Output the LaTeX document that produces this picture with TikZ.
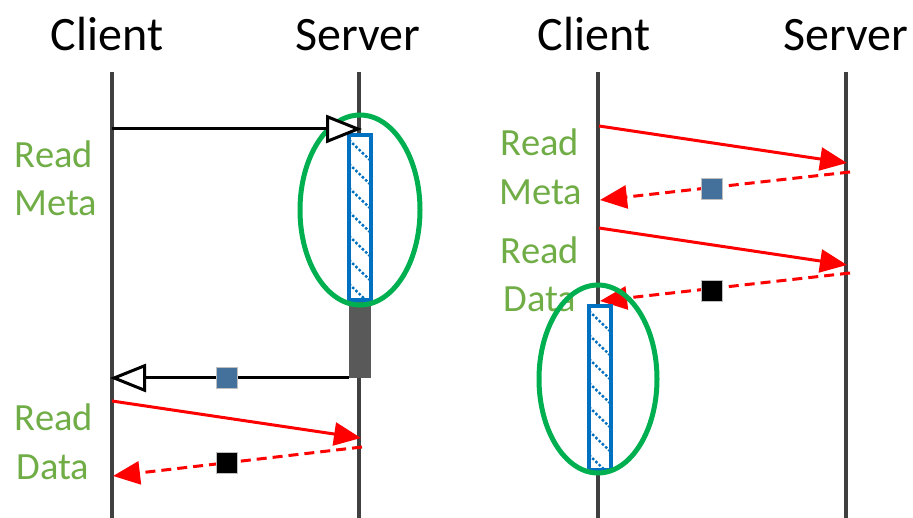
\documentclass[tikz,border=0pt]{standalone}
\usepackage{fontspec}
\setmainfont{Carlito}
\usetikzlibrary{arrows.meta}
\definecolor{life}{HTML}{404040}
\definecolor{lbl}{HTML}{70AD47}
\definecolor{ell}{HTML}{00B050}
\definecolor{hblue}{HTML}{0070C0}
\definecolor{sqblue}{HTML}{44719C}
\definecolor{busy}{HTML}{595959}
\tikzset{
  lifeline/.style={draw=life,line width=4.5pt},
  title/.style={anchor=base,font=\fontsize{48}{52}\selectfont,inner sep=0pt},
  lbltext/.style={anchor=base,text=lbl,font=\fontsize{38.5}{44}\selectfont,inner sep=0pt},
  call/.style={draw=black,line width=3pt,-{Triangle[open,length=36pt,width=28pt,fill=white,line width=3pt]}},
  req/.style={draw=red,line width=3pt,-{Triangle[length=27pt,width=23pt]}},
  resp/.style={draw=red,line width=3pt,dash pattern=on 10pt off 6pt,-{Triangle[length=27pt,width=23pt]}},
  sqb/.style={fill=sqblue,draw=black!25,line width=1pt,minimum size=21pt,inner sep=0pt},
  sqk/.style={fill=black,draw=black!25,line width=1pt,minimum size=21pt,inner sep=0pt},
  ellip/.style={draw=ell,line width=5pt},
  hatchbox/.style={draw=hblue,line width=4.5pt},
  hatchline/.style={draw=hblue,line width=2.4pt,dash pattern=on 2.5pt off 2pt},
  busybox/.style={fill=busy,draw=none}
}
\begin{document}
\begin{tikzpicture}[x=1pt,y=-1pt]
\useasboundingbox (0,0) rectangle (913,518);
% titles
\node[title] (tc1) at (107,51) {Client};
\node[title] (ts1) at (358,51) {Server};
\node[title] (tc2) at (594,51) {Client};
\node[title] (ts2) at (846,51) {Server};
% lifelines
\coordinate (c1t) at (112,72); \coordinate (c1b) at (112,518);
\coordinate (s1t) at (359,72); \coordinate (s1b) at (359,518);
\coordinate (c2t) at (598,72); \coordinate (c2b) at (598,518);
\coordinate (s2t) at (846,72); \coordinate (s2b) at (846,518);
\draw[lifeline] (c1t) -- (c1b);
\draw[lifeline] (s1t) -- (s1b);
\draw[lifeline] (c2t) -- (c2b);
\draw[lifeline] (s2t) -- (s2b);
% labels left
\node[lbltext] (l1a) at (54,168) {Read};
\node[lbltext] (l1b) at (56,216) {Meta};
\node[lbltext] (l2a) at (54,430) {Read};
\node[lbltext] (l2b) at (53,479) {Data};
% labels right
\node[lbltext] (r1a) at (540,156) {Read};
\node[lbltext] (r1b) at (541,205) {Meta};
\node[lbltext] (r2a) at (540,264) {Read};
\node[lbltext] (r2b) at (540,312) {Data};
% left: busy box and hatched box
\fill[busybox] (349,300) rectangle (371,378);
\fill[white] (349,135) rectangle (371,300);
\begin{scope}
  \clip (349,135) rectangle (371,300);
  \foreach \y in {116,140,...,300} {
    \draw[hatchline] (349,\y) -- (371,\y+21);
  }
\end{scope}
\draw[hatchbox] (349,135) rectangle (371,300);
\draw[ellip] (360,210) ellipse [x radius=60,y radius=95];
% left arrows
\coordinate (a1s) at (112,129); \coordinate (a1e) at (362,129);
\draw[call] (a1s) -- (a1e);
\coordinate (a2s) at (349,378); \coordinate (a2e) at (110,378);
\draw[call] (a2s) -- (a2e);
\node[sqb] (q1) at (227,378) {};
\coordinate (a3s) at (112,401); \coordinate (a3e) at (361,438);
\draw[req] (a3s) -- (a3e);
\coordinate (a4s) at (362,447); \coordinate (a4e) at (113,476);
\draw[resp] (a4s) -- (a4e);
\node[sqk] (q2) at (227,463) {};
% right arrows
\coordinate (b1s) at (599,126); \coordinate (b1e) at (847,163);
\draw[req] (b1s) -- (b1e);
\coordinate (b2s) at (850,172); \coordinate (b2e) at (600,200);
\draw[resp] (b2s) -- (b2e);
\node[sqb] (q3) at (712,189) {};
\coordinate (b3s) at (599,228); \coordinate (b3e) at (847,265);
\draw[req] (b3s) -- (b3e);
\coordinate (b4s) at (850,273); \coordinate (b4e) at (600,301);
\draw[resp] (b4s) -- (b4e);
\node[sqk] (q4) at (712,291) {};
% right hatched box
\fill[white] (589,306) rectangle (611,470);
\begin{scope}
  \clip (589,306) rectangle (611,470);
  \foreach \y in {287,311,...,470} {
    \draw[hatchline] (589,\y) -- (611,\y+21);
  }
\end{scope}
\draw[hatchbox] (589,306) rectangle (611,470);
\draw[ellip] (598,379) ellipse [x radius=59,y radius=94];
\end{tikzpicture}
\end{document}
